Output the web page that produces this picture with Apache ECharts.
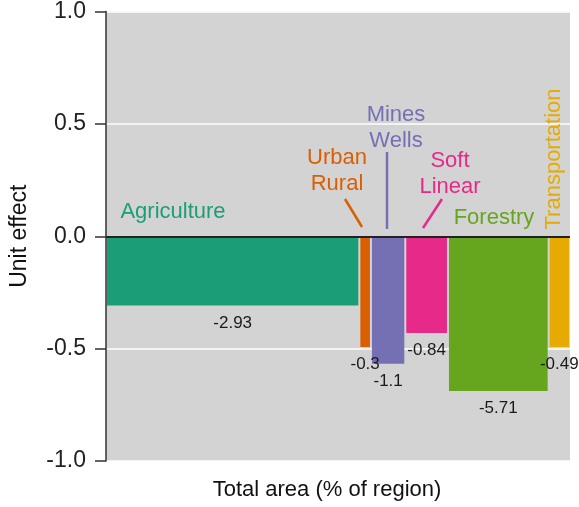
<!DOCTYPE html>
<html>
<head>
<meta charset="utf-8">
<title>Unit effect by land use</title>
<script src="https://cdn.jsdelivr.net/npm/echarts@6/dist/echarts.min.js"></script>
<style>
  html, body { margin: 0; padding: 0; background: #fff; }
  #chart { width: 579px; height: 507px; }
</style>
</head>
<body>
<div id="chart"></div>
<script>
// data
var categories = ['Agriculture', 'Urban Rural', 'Mines Wells', 'Soft Linear', 'Forestry', 'Transportation'];
var areaShare = [54.6, 2.5, 7.4, 9.2, 21.7, 4.6];        // bar widths, % of region
var unitEffect = [-0.308, -0.493, -0.567, -0.431, -0.688, -0.493];
var totalEffect = ['-2.93', '-0.3', '-1.1', '-0.84', '-5.71', '-0.49'];
var yTicks = [-1.0, -0.5, 0.0, 0.5, 1.0];

var colors = ['#1b9e77', '#d95f02', '#7570b3', '#e7298a', '#66a61e', '#e6ab02'];
var font = '"Liberation Sans", Arial, sans-serif';

// cumulative start/end of each bar along the x axis
var barData = [];
var acc = 0;
for (var i = 0; i < categories.length; i++) {
    barData.push([acc, acc + areaShare[i], unitEffect[i], totalEffect[i], categories[i]]);
    acc += areaShare[i];
}

function renderBar(params, api) {
    var p0 = api.coord([api.value(0), 0]);
    var p1 = api.coord([api.value(1), api.value(2)]);
    return {
        type: 'rect',
        shape: { x: p0[0] + 1, y: p0[1], width: p1[0] - p0[0] - 2, height: p1[1] - p0[1] },
        style: { fill: colors[params.dataIndex] },
        textContent: {
            style: { text: totalEffect[params.dataIndex], fontSize: 17, fontFamily: font, fill: '#1a1a1a' }
        },
        textConfig: { position: 'bottom', distance: 9 }
    };
}

function note(text, x, y, color, rot) {
    return {
        type: 'text', x: x, y: y, rotation: rot || 0, z: 10,
        style: {
            text: text, fill: color, fontSize: 22, fontFamily: font, lineHeight: 26,
            align: 'center', verticalAlign: 'middle'
        }
    };
}

function leader(x1, y1, x2, y2, color) {
    return {
        type: 'line', z: 10,
        shape: { x1: x1, y1: y1, x2: x2, y2: y2 },
        style: { stroke: color, lineWidth: 2.5 }
    };
}

var chart = echarts.init(document.getElementById('chart'));

chart.setOption({
    animation: false,
    backgroundColor: '#fff',
    grid: {
        left: 106, right: 9, top: 10, bottom: 46,
        show: true, backgroundColor: '#d3d3d3', borderWidth: 0
    },
    xAxis: {
        type: 'value', min: 0, max: acc,
        axisLine: { show: false }, axisTick: { show: false },
        axisLabel: { show: false }, splitLine: { show: false }
    },
    yAxis: {
        type: 'value', min: yTicks[0], max: yTicks[yTicks.length - 1], interval: 0.5,
        offset: 3,
        name: 'Unit effect', nameLocation: 'middle', nameGap: 72,
        nameTextStyle: { fontSize: 23, fontFamily: font, color: '#111' },
        axisLine: { show: true, lineStyle: { color: '#333', width: 1.5 } },
        axisTick: { show: true, inside: false, length: 11, lineStyle: { color: '#333', width: 1.5 } },
        axisLabel: {
            margin: 17, fontSize: 23, fontFamily: font, color: '#222',
            formatter: function (v) { return v.toFixed(1); }
        },
        splitLine: { show: true, lineStyle: { color: '#fff', width: 1.5 } }
    },
    series: [{
        type: 'custom',
        renderItem: renderBar,
        data: barData,
        markLine: {
            silent: true, symbol: 'none', label: { show: false },
            lineStyle: { color: '#222', type: 'solid', width: 2 },
            data: [{ yAxis: 0 }]
        }
    }],
    graphic: [
        note('Agriculture', 173, 212, colors[0]),
        note('Urban\nRural', 337, 171, colors[1]),
        note('Mines\nWells', 396, 128, colors[2]),
        note('Soft\nLinear', 450, 174, colors[3]),
        note('Forestry', 494, 218, colors[4]),
        note('Transportation', 554, 159, colors[5], Math.PI / 2),
        leader(345, 199, 362, 227, colors[1]),
        leader(387, 152, 387, 229, colors[2]),
        leader(442, 199, 423, 228, colors[3]),
        {
            type: 'text', x: 327, y: 490,
            style: {
                text: 'Total area (% of region)', fill: '#111', fontSize: 22, fontFamily: font,
                align: 'center', verticalAlign: 'middle'
            }
        }
    ]
});
</script>
</body>
</html>
